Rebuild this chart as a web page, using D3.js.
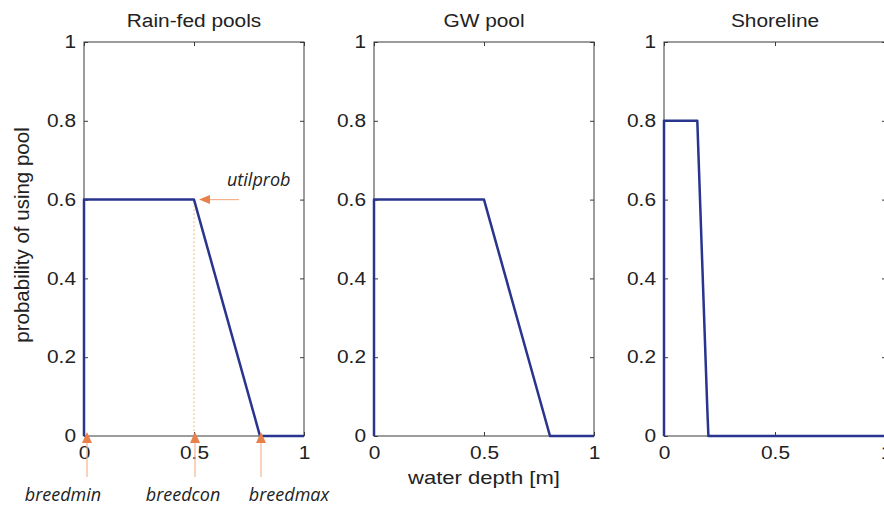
<!DOCTYPE html>
<html>
<head>
<meta charset="utf-8">
<script src="https://cdn.jsdelivr.net/npm/d3@7"></script>
<style>
  html, body { margin: 0; padding: 0; background: #fff; }
  svg { display: block; }
  .tick text { font-family: "Liberation Sans", Arial, sans-serif; font-size: 18px; fill: #222; }
</style>
</head>
<body>
<svg id="chart" width="884" height="509"></svg>
<script>
// Pool-use probability curves against water depth
const panelTitles = ["Rain-fed pools", "GW pool", "Shoreline"];
const rainDepth = [0, 0, 0.5, 0.8, 1];
const rainProb  = [0, 0.6, 0.6, 0, 0];
const gwDepth   = [0, 0, 0.5, 0.8, 1];
const gwProb    = [0, 0.6, 0.6, 0, 0];
const shoreDepth = [0, 0, 0.15, 0.195, 0.2, 1];
const shoreProb  = [0, 0.8, 0.8, 0.07, 0, 0];
const xTicks = [0, 0.5, 1];
const yTicks = [0, 0.2, 0.4, 0.6, 0.8, 1];

// Parameter annotations on the first panel
const markerNames = ["breedmin", "breedcon", "breedmax"];
const markerDepth = [0, 0.5, 0.8];
const utilLabel = "utilprob";
const utilValue = 0.6;

const series = [
  { depth: rainDepth, prob: rainProb },
  { depth: gwDepth, prob: gwProb },
  { depth: shoreDepth, prob: shoreProb }
];

const svg = d3.select("#chart");
const lineColor = "#28348e";
const annoColor = "#e8804a";
const axisColor = "#3a3a3a";
const sansFont = "Liberation Sans, Arial, sans-serif";
const wide = 1.16;   // horizontal widening of the sans labels

const plotTop = 42, plotBottom = 436;
const panelLeft = [84, 374, 664];
const panelWidth = [220, 220, 222];

const fmt = d => d3.format("~g")(d);
const y = d3.scaleLinear().domain([0, 1]).range([plotBottom, plotTop]);

// widen tick labels in place, keeping their anchor point
function widenTicks(a) {
  a.selectAll(".tick text").each(function () {
    const t = d3.select(this);
    const x0 = +t.attr("x") || 0;
    t.attr("x", x0 / wide).attr("transform", `scale(${wide},1)`);
  });
}

function wideText(parent, x, yPos, str, size) {
  return parent.append("g").attr("transform", `translate(${x},${yPos})`)
    .append("text")
    .attr("transform", `scale(${wide},1)`)
    .attr("text-anchor", "middle")
    .attr("font-family", sansFont)
    .attr("font-size", size).attr("fill", "#222")
    .text(str);
}

const xs = [];
series.forEach((s, i) => {
  const x = d3.scaleLinear().domain([0, 1]).range([panelLeft[i], panelLeft[i] + panelWidth[i]]);
  xs.push(x);
  const g = svg.append("g");

  // box
  g.append("rect")
    .attr("x", x(0)).attr("y", plotTop)
    .attr("width", x(1) - x(0)).attr("height", plotBottom - plotTop)
    .attr("fill", "none").attr("stroke", axisColor).attr("stroke-width", 1);

  // left axis with inward ticks
  g.append("g").attr("transform", `translate(${x(0)},0)`)
    .call(d3.axisLeft(y).tickValues(yTicks).tickFormat(fmt).tickSizeInner(-4).tickSizeOuter(0).tickPadding(8))
    .call(a => a.select(".domain").remove())
    .call(a => a.selectAll("line").attr("stroke", axisColor))
    .call(widenTicks);
  // right mirrored ticks
  g.append("g").attr("transform", `translate(${x(1)},0)`)
    .call(d3.axisRight(y).tickValues(yTicks).tickFormat("").tickSizeInner(-4).tickSizeOuter(0))
    .call(a => a.select(".domain").remove())
    .call(a => a.selectAll("line").attr("stroke", axisColor));
  // bottom axis
  g.append("g").attr("transform", `translate(0,${plotBottom})`)
    .call(d3.axisBottom(x).tickValues(xTicks).tickFormat(fmt).tickSizeInner(-4).tickSizeOuter(0).tickPadding(10))
    .call(a => a.select(".domain").remove())
    .call(a => a.selectAll("line").attr("stroke", axisColor))
    .call(widenTicks);
  // top mirrored ticks
  g.append("g").attr("transform", `translate(0,${plotTop})`)
    .call(d3.axisTop(x).tickValues(xTicks).tickFormat("").tickSizeInner(-4).tickSizeOuter(0))
    .call(a => a.select(".domain").remove())
    .call(a => a.selectAll("line").attr("stroke", axisColor));

  // title
  wideText(g, (x(0) + x(1)) / 2, 27, panelTitles[i], 18);

  // curve
  const pts = s.depth.map((d, k) => [d, s.prob[k]]);
  g.append("path")
    .datum(pts)
    .attr("d", d3.line().x(d => x(d[0])).y(d => y(d[1])))
    .attr("fill", "none").attr("stroke", lineColor)
    .attr("stroke-width", 2.5).attr("stroke-linejoin", "round");
});

// axis titles
svg.append("text")
  .attr("transform", `translate(29,235) rotate(-90)`)
  .attr("text-anchor", "middle")
  .attr("font-family", sansFont)
  .attr("font-size", 20.5).attr("fill", "#222")
  .text("probability of using pool");
wideText(svg, (xs[1](0) + xs[1](1)) / 2, 484, "water depth [m]", 19);

// annotations on the rain-fed panel
const xa = xs[0];
const anno = svg.append("g");
const annoFont = "Open Sans, sans-serif";

// dotted guide under breedcon
anno.append("line")
  .attr("x1", xa(markerDepth[1])).attr("x2", xa(markerDepth[1]))
  .attr("y1", y(utilValue) + 6).attr("y2", plotBottom)
  .attr("stroke", "#f2b870").attr("stroke-width", 1.2)
  .attr("stroke-dasharray", "1.5,2.5");

// utilprob arrow
const uy = y(utilValue);
const ux = xa(markerDepth[1]) + 5;
anno.append("line")
  .attr("x1", ux + 8).attr("x2", ux + 40).attr("y1", uy).attr("y2", uy)
  .attr("stroke", "#f3b48c").attr("stroke-width", 1.2);
anno.append("path")
  .attr("d", `M${ux},${uy} L${ux + 11},${uy - 4.5} L${ux + 11},${uy + 4.5} Z`)
  .attr("fill", annoColor);
anno.append("text")
  .attr("x", ux + 28).attr("y", uy - 14)
  .attr("font-family", annoFont).attr("font-style", "italic")
  .attr("font-size", 18).attr("fill", "#222")
  .text(utilLabel);

// breed markers
const labelOffset = [-24, -12, 28];
markerNames.forEach((name, k) => {
  const mx = xa(markerDepth[k]) + (k === 0 ? 3 : 1);
  anno.append("line")
    .attr("x1", mx).attr("x2", mx).attr("y1", plotBottom + 6).attr("y2", 477)
    .attr("stroke", "#f3b48c").attr("stroke-width", 1.2);
  anno.append("path")
    .attr("d", `M${mx},${plotBottom - 4} L${mx - 5},${plotBottom + 7} L${mx + 5},${plotBottom + 7} Z`)
    .attr("fill", annoColor);
  anno.append("text")
    .attr("x", mx + labelOffset[k]).attr("y", 501)
    .attr("text-anchor", "middle")
    .attr("font-family", annoFont).attr("font-style", "italic")
    .attr("font-size", 18).attr("fill", "#222")
    .text(name);
});
</script>
</body>
</html>
